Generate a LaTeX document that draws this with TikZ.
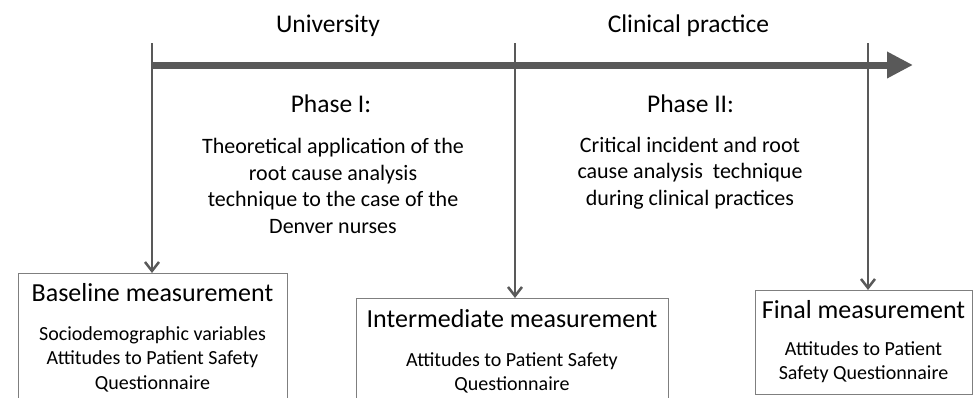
\documentclass[tikz,border=0pt]{standalone}
\usepackage{fontspec}
\setmainfont{Carlito}
\usetikzlibrary{arrows.meta,positioning}
\definecolor{linegray}{HTML}{595959}
\definecolor{boxgray}{HTML}{7F7F7F}
\tikzset{
  heading/.style={font=\fontsize{25.5}{30}\selectfont, inner sep=0pt},
  desc/.style={font=\fontsize{22}{26.5}\selectfont, align=center, inner sep=0pt},
  mbox/.style={draw=boxgray, line width=1pt, anchor=north, inner sep=0pt},
  boxtitle/.style={font=\fontsize{26}{30}\selectfont, inner sep=0pt},
  boxitem/.style={font=\fontsize{20}{24.5}\selectfont, align=center, inner sep=0pt},
  marker/.style={draw=linegray, line width=2.5pt, -{Straight Barb[length=9pt,width=14pt]}},
  timeline/.style={draw=linegray, line width=7pt, -{Triangle[length=26pt,width=25pt]}}
}

\begin{document}
\begin{tikzpicture}[x=1pt,y=-1pt]
	\useasboundingbox (0,0) rectangle (973,397);
	
	% time line
	\coordinate (tstart) at (152,65);
	\coordinate (tend) at (913,65);
	\draw[timeline] (tstart) -- (tend);
	
	% periods
	\node[heading] (uni) at (328,26) {University};
	\node[heading] (clin) at (688.5,26) {Clinical practice};
	
	% phases
	\node[heading] (ph1) at (331,104) {Phase I:};
	\node[heading] (ph2) at (690.5,104) {Phase II:};
	\node[desc] (d1) at (333,186) {Theoretical application of the\\root cause analysis\\technique to the case of the\\Denver nurses};
	\node[desc] (d2) at (690,173) {Critical incident and root\\cause analysis\ \ technique\\during clinical practices};
	
	% measurement boxes
	\node[mbox, minimum width=269pt, minimum height=135pt] (m1) at (152.5,273) {};
	\node[mbox, minimum width=312pt, minimum height=110pt] (m2) at (512,298) {};
	\node[mbox, minimum width=217pt, minimum height=104pt] (m3) at (863.5,290) {};
	
	\node[boxtitle] (m1t) at ([yshift=-20pt]m1.north) {Baseline measurement};
	\node[boxitem] (m1i) at ([yshift=-86pt]m1.north) {Sociodemographic variables\\Attitudes to Patient Safety\\Questionnaire};
	\node[boxtitle] (m2t) at ([yshift=-21pt]m2.north) {Intermediate measurement};
	\node[boxitem] (m2i) at ([yshift=-75pt]m2.north) {Attitudes to Patient Safety\\Questionnaire};
	\node[boxtitle] (m3t) at ([yshift=-20pt]m3.north) {Final measurement};
	\node[boxitem] (m3i) at ([yshift=-72pt]m3.north) {Attitudes to Patient\\Safety Questionnaire};
	
	% markers
	\coordinate (k1) at (152,43);
	\coordinate (k2) at (515,43);
	\coordinate (k3) at (868,43);
	\draw[marker] (k1) -- (k1 |- m1.north);
	\draw[marker] (k2) -- (k2 |- m2.north);
	\draw[marker] (k3) -- (k3 |- m3.north);
	
\end{tikzpicture}
\end{document}
